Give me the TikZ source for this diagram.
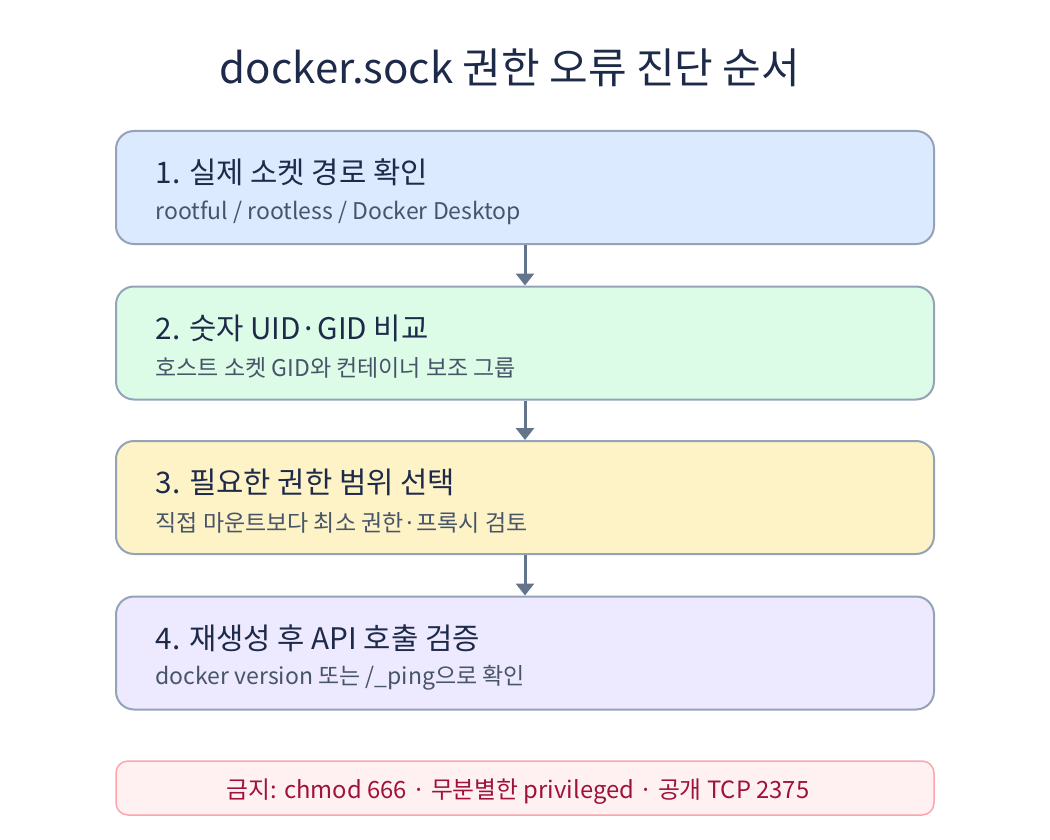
\documentclass[tikz,border=0pt]{standalone}
\usepackage{fontspec}
\setmainfont{Noto Sans CJK KR}
\usetikzlibrary{positioning, arrows.meta}
\definecolor{titlec}{HTML}{1E2A4A}
\definecolor{subc}{HTML}{475569}
\definecolor{edgec}{HTML}{94A3B8}
\definecolor{arrc}{HTML}{64748B}
\definecolor{fillA}{HTML}{DBEAFE}
\definecolor{fillB}{HTML}{DCFCE7}
\definecolor{fillC}{HTML}{FEF3C7}
\definecolor{fillD}{HTML}{EDE9FE}
\definecolor{banfill}{HTML}{FFF1F2}
\definecolor{banedge}{HTML}{FDA4AF}
\definecolor{bantext}{HTML}{9F1239}

\begin{document}
\begin{tikzpicture}[x=1pt, y=-1pt]
    \tikzstyle{stage} = [draw=edgec, line width=2pt, rounded corners=18pt, minimum width=818pt, minimum height=113pt];
    \tikzstyle{head} = [anchor=west, font=\fontsize{29.7}{33}\selectfont, text=titlec];
    \tikzstyle{sub} = [anchor=west, font=\fontsize{23}{26}\selectfont, text=subc];
    \tikzstyle{flow} = [draw=arrc, line width=3pt, -{Triangle[length=12pt, width=18pt]}];

    \useasboundingbox (0, 0) rectangle (1050, 840);

    \node[font=\fontsize{42}{48}\selectfont, text=titlec] (title) at (510, 68) {docker.sock 권한 오류 진단 순서};

    \node[stage, fill=fillA] (step1) at (525, 187.5) {};
    \node[stage, fill=fillB] (step2) at (525, 343) {};
    \node[stage, fill=fillC] (step3) at (525, 497.5) {};
    \node[stage, fill=fillD] (step4) at (525, 653) {};

    \node[head] at (152, 172) {1. 실제 소켓 경로 확인};
    \node[sub] at (152, 213) {rootful / rootless / Docker Desktop};
    \node[head] at (152, 328) {2. 숫자 UID·GID 비교};
    \node[sub] at (152, 368) {호스트 소켓 GID와 컨테이너 보조 그룹};
    \node[head] at (152, 482) {3. 필요한 권한 범위 선택};
    \node[sub] at (152, 523) {직접 마운트보다 최소 권한·프록시 검토};
    \node[head] at (152, 638) {4. 재생성 후 API 호출 검증};
    \node[sub] at (152, 678) {docker version 또는 /\_ping으로 확인};

    \draw[flow] (step1.south) -- (step2.north);
    \draw[flow] (step2.south) -- (step3.north);
    \draw[flow] (step3.south) -- (step4.north);

    \node[draw=banedge, line width=1.5pt, fill=banfill, rounded corners=12pt, minimum width=818pt, minimum height=54pt] (ban) at (525, 788) {};
    \node[text=bantext, font=\fontsize{23.8}{27}\selectfont] at (518, 792) {금지: chmod 666 · 무분별한 privileged · 공개 TCP 2375};
\end{tikzpicture}
\end{document}
